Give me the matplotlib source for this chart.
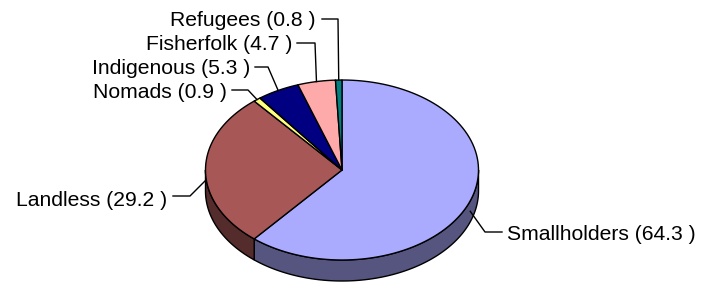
import numpy as np
import matplotlib.pyplot as plt
from matplotlib.patches import Polygon
from matplotlib.colors import to_rgb

groups = ['Smallholders', 'Landless', 'Nomads', 'Indigenous', 'Fisherfolk', 'Refugees']
shares = [64.3, 29.2, 0.9, 5.3, 4.7, 0.8]
colors = ['#AAAAFF', '#A85757', '#FFFF80', '#000080', '#FFAAAA', '#008080']

# label layout: text x, text y, alignment, elbow x, elbow y, line end x
layout = {
    'Smallholders': (507, 235, 'left', 485, 232, 502),
    'Landless': (167, 200, 'right', 190, 196, 173),
    'Nomads': (227, 93, 'right', 248, 90, 232),
    'Indigenous': (250, 69, 'right', 268, 67, 255),
    'Fisherfolk': (292, 45, 'right', 315, 43, 297),
    'Refugees': (316, 21, 'right', 338, 19, 322),
}

cx, cy, rx, ry, depth = 342, 170, 136.5, 90, 21

fig = plt.figure(figsize=(7.08, 2.87), dpi=100)
ax = fig.add_axes([0, 0, 1, 1])
ax.set_xlim(0, 708)
ax.set_ylim(287, 0)
ax.axis('off')


def rim(t0, t1, dy=0, n=100):
    t = np.radians(np.linspace(t0, t1, n))
    return np.column_stack([cx + rx * np.cos(t), cy - ry * np.sin(t) + dy])


total = sum(shares)
edges = 90 - np.concatenate([[0], np.cumsum(shares)]) * 360 / total

# side walls (front half only)
for i, c in enumerate(colors):
    lo, hi = edges[i + 1], edges[i]
    dark = tuple(v * 0.5 for v in to_rgb(c))
    for k in (-360, 0, 360):
        a, b = max(lo, -180 + k), min(hi, k)
        if a < b:
            pts = np.vstack([rim(a, b), rim(b, a, depth)])
            ax.add_patch(Polygon(pts, fc=dark, ec='black', lw=1.0, joinstyle='round'))

# top faces
for i, c in enumerate(colors):
    lo, hi = edges[i + 1], edges[i]
    pts = np.vstack([[cx, cy], rim(hi, lo)])
    ax.add_patch(Polygon(pts, fc=c, ec='black', lw=1.0, joinstyle='round'))

# labels with leader lines
for i, g in enumerate(groups):
    mid = (edges[i] + edges[i + 1]) / 2
    t = np.radians(mid)
    px = cx + rx * np.cos(t)
    py = cy - ry * np.sin(t)
    if np.sin(t) < 0:
        py += depth / 2
    tx, ty, ha, ex, ey, lx = layout[g]
    ax.plot([px, ex, lx], [py, ey, ey], color='black', lw=1.0)
    ax.text(tx, ty, f'{g} ({shares[i]} )', ha=ha, va='center',
            fontsize=15.2, family='Liberation Sans', color='black')

fig.savefig('out.png', dpi=100)
